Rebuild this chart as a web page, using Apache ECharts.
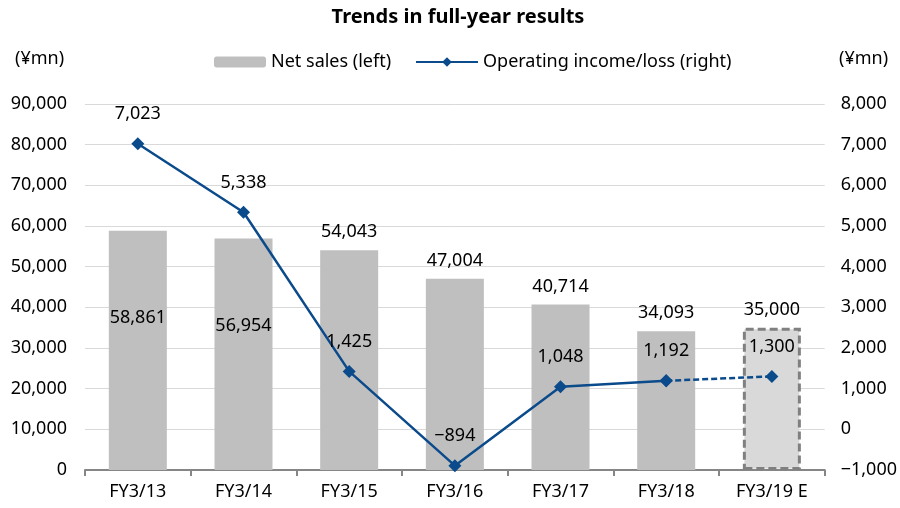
<!DOCTYPE html>
<html>
<head>
<meta charset="utf-8">
<script src="https://cdn.jsdelivr.net/npm/echarts@6/dist/echarts.min.js"></script>
<style>
  html, body { margin: 0; padding: 0; background: #fff; }
  #main { width: 900px; height: 508px; }
</style>
</head>
<body>
<div id="main"></div>
<script>
// data
const categories = ['FY3/13', 'FY3/14', 'FY3/15', 'FY3/16', 'FY3/17', 'FY3/18', 'FY3/19 E'];
const netSales = [58861, 56954, 54043, 47004, 40714, 34093, 35000];
const operatingIncome = [7023, 5338, 1425, -894, 1048, 1192, 1300];
const leftTicks = { min: 0, max: 90000, interval: 10000 };
const rightTicks = { min: -1000, max: 8000, interval: 1000 };

const FONT = '"Noto Sans", "Noto Sans CJK JP", sans-serif';
const FS = 18;
const fmt = v => Number(v).toLocaleString('en-US').replace('-', '\u2212');
const lastIdx = categories.length - 1;

// bars: last one is the forecast (lighter, dashed border)
const barData = netSales.map((v, i) => {
  const item = { value: v };
  if (i === lastIdx) {
    item.itemStyle = { color: '#D9D9D9', borderColor: '#808080', borderWidth: 3, borderType: [8, 4] };
  }
  // first two labels sit inside the bar because the line labels are above
  if (i < 2) {
    item.label = { position: 'insideTop', distance: 78 };
  }
  return item;
});

// solid line for actuals, dashed line for the forecast step
const solidLine = operatingIncome.map((v, i) => (i < lastIdx ? v : '-'));
const dashLine = operatingIncome.map((v, i) => (i >= lastIdx - 1 ? v : '-'));

const myChart = echarts.init(document.getElementById('main'));
const option = {
  animation: false,
  textStyle: { fontFamily: FONT },
  title: {
    text: 'Trends in full-year results',
    left: 453, textAlign: 'center', top: 2,
    textStyle: { fontFamily: FONT, fontSize: 20, fontWeight: 'bold', color: '#000' }
  },
  legend: [{
    data: ['Net sales (left)'],
    left: 209, top: 48,
    itemWidth: 52, itemHeight: 11, itemGap: 6,
    textStyle: { fontFamily: FONT, fontSize: FS, color: '#000' }
  }, {
    data: ['Operating income/loss (right)'],
    left: 410, top: 48,
    itemWidth: 62, itemHeight: 12, itemGap: 4,
    textStyle: { fontFamily: FONT, fontSize: FS, color: '#000' }
  }],
  graphic: [
    { type: 'text', left: 15, top: 50, style: { text: '(\u00a5mn)', fontFamily: FONT, fontSize: FS, fill: '#000' } },
    { type: 'text', left: 839, top: 50, style: { text: '(\u00a5mn)', fontFamily: FONT, fontSize: FS, fill: '#000' } }
  ],
  grid: { left: 85, right: 75, top: 104, bottom: 38 },
  xAxis: {
    type: 'category',
    data: categories,
    axisLine: { lineStyle: { color: '#868686', width: 2 } },
    axisTick: { show: true, length: 6, lineStyle: { color: '#868686', width: 2 } },
    axisLabel: { fontFamily: FONT, fontSize: FS, color: '#000', margin: 13 }
  },
  yAxis: [{
    type: 'value',
    min: leftTicks.min, max: leftTicks.max, interval: leftTicks.interval,
    axisLine: { show: false },
    axisTick: { show: false },
    splitLine: { lineStyle: { color: '#D9D9D9', width: 1 } },
    axisLabel: { fontFamily: FONT, fontSize: FS, color: '#000', margin: 18, formatter: fmt }
  }, {
    type: 'value',
    min: rightTicks.min, max: rightTicks.max, interval: rightTicks.interval,
    axisLine: { show: false },
    axisTick: { show: false },
    splitLine: { show: false },
    axisLabel: { fontFamily: FONT, fontSize: FS, color: '#000', margin: 16, formatter: fmt }
  }],
  series: [{
    name: 'Net sales (left)',
    type: 'bar',
    yAxisIndex: 0,
    data: barData,
    barWidth: 58,
    itemStyle: { color: '#BFBFBF' },
    label: {
      show: true, position: 'top', distance: 9,
      fontFamily: FONT, fontSize: FS, color: '#000',
      formatter: p => fmt(p.value)
    },
    z: 2
  }, {
    name: 'Operating income/loss (right)',
    type: 'line',
    yAxisIndex: 1,
    data: solidLine,
    symbol: 'diamond', symbolSize: 13,
    lineStyle: { color: '#0B4A8B', width: 2.5 },
    itemStyle: { color: '#0B4A8B' },
    label: {
      show: true, position: 'top', distance: 14,
      fontFamily: FONT, fontSize: FS, color: '#000',
      formatter: p => fmt(p.value)
    },
    z: 4
  }, {
    name: 'forecast',
    type: 'line',
    yAxisIndex: 1,
    data: dashLine,
    symbol: 'diamond', symbolSize: 13,
    lineStyle: { color: '#0B4A8B', width: 2.5, type: [6, 3] },
    itemStyle: { color: '#0B4A8B' },
    label: {
      show: true, position: 'top', distance: 14,
      fontFamily: FONT, fontSize: FS, color: '#000',
      formatter: p => (p.dataIndex === lastIdx ? fmt(p.value) : '')
    },
    z: 3
  }]
};
myChart.setOption(option);
</script>
</body>
</html>
